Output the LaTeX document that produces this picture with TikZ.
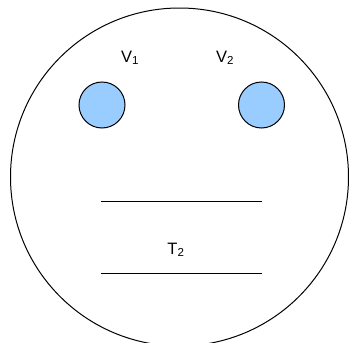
\documentclass[tikz,border=0pt]{standalone}
\usepackage{fontspec}
\setmainfont{Liberation Sans}
\begin{document}
\begin{tikzpicture}[x=1pt,y=-1pt,
  face/.style={circle,draw=black,line width=1pt,minimum size=338pt,inner sep=0pt},
  eye/.style={circle,draw=black,line width=1pt,fill=eyeblue,minimum size=46pt,inner sep=0pt},
  lbl/.style={font=\fontsize{16.5}{20}\selectfont,inner sep=0pt},
  mouth/.style={line width=1pt}]
\definecolor{eyeblue}{HTML}{99CCFF}
\useasboundingbox (0,0) rectangle (349,343);
\clip (0,0) rectangle (349,343);
\node[face] (head) at (179.5,177) {};
\node[eye] (e1) at (102,105) {};
\node[eye] (e2) at (261.5,105) {};
\node[lbl] (v1) at (130,58) {V\textsubscript{1}};
\node[lbl] (v2) at (225,58) {V\textsubscript{2}};
\node[lbl] (t2) at (176,250) {T\textsubscript{2}};
\coordinate (a1) at (101,201);
\coordinate (a2) at (262,201);
\coordinate (b1) at (101,273);
\coordinate (b2) at (262,273);
\draw[mouth] (a1) -- (a2);
\draw[mouth] (b1) -- (b2);
\end{tikzpicture}
\end{document}
